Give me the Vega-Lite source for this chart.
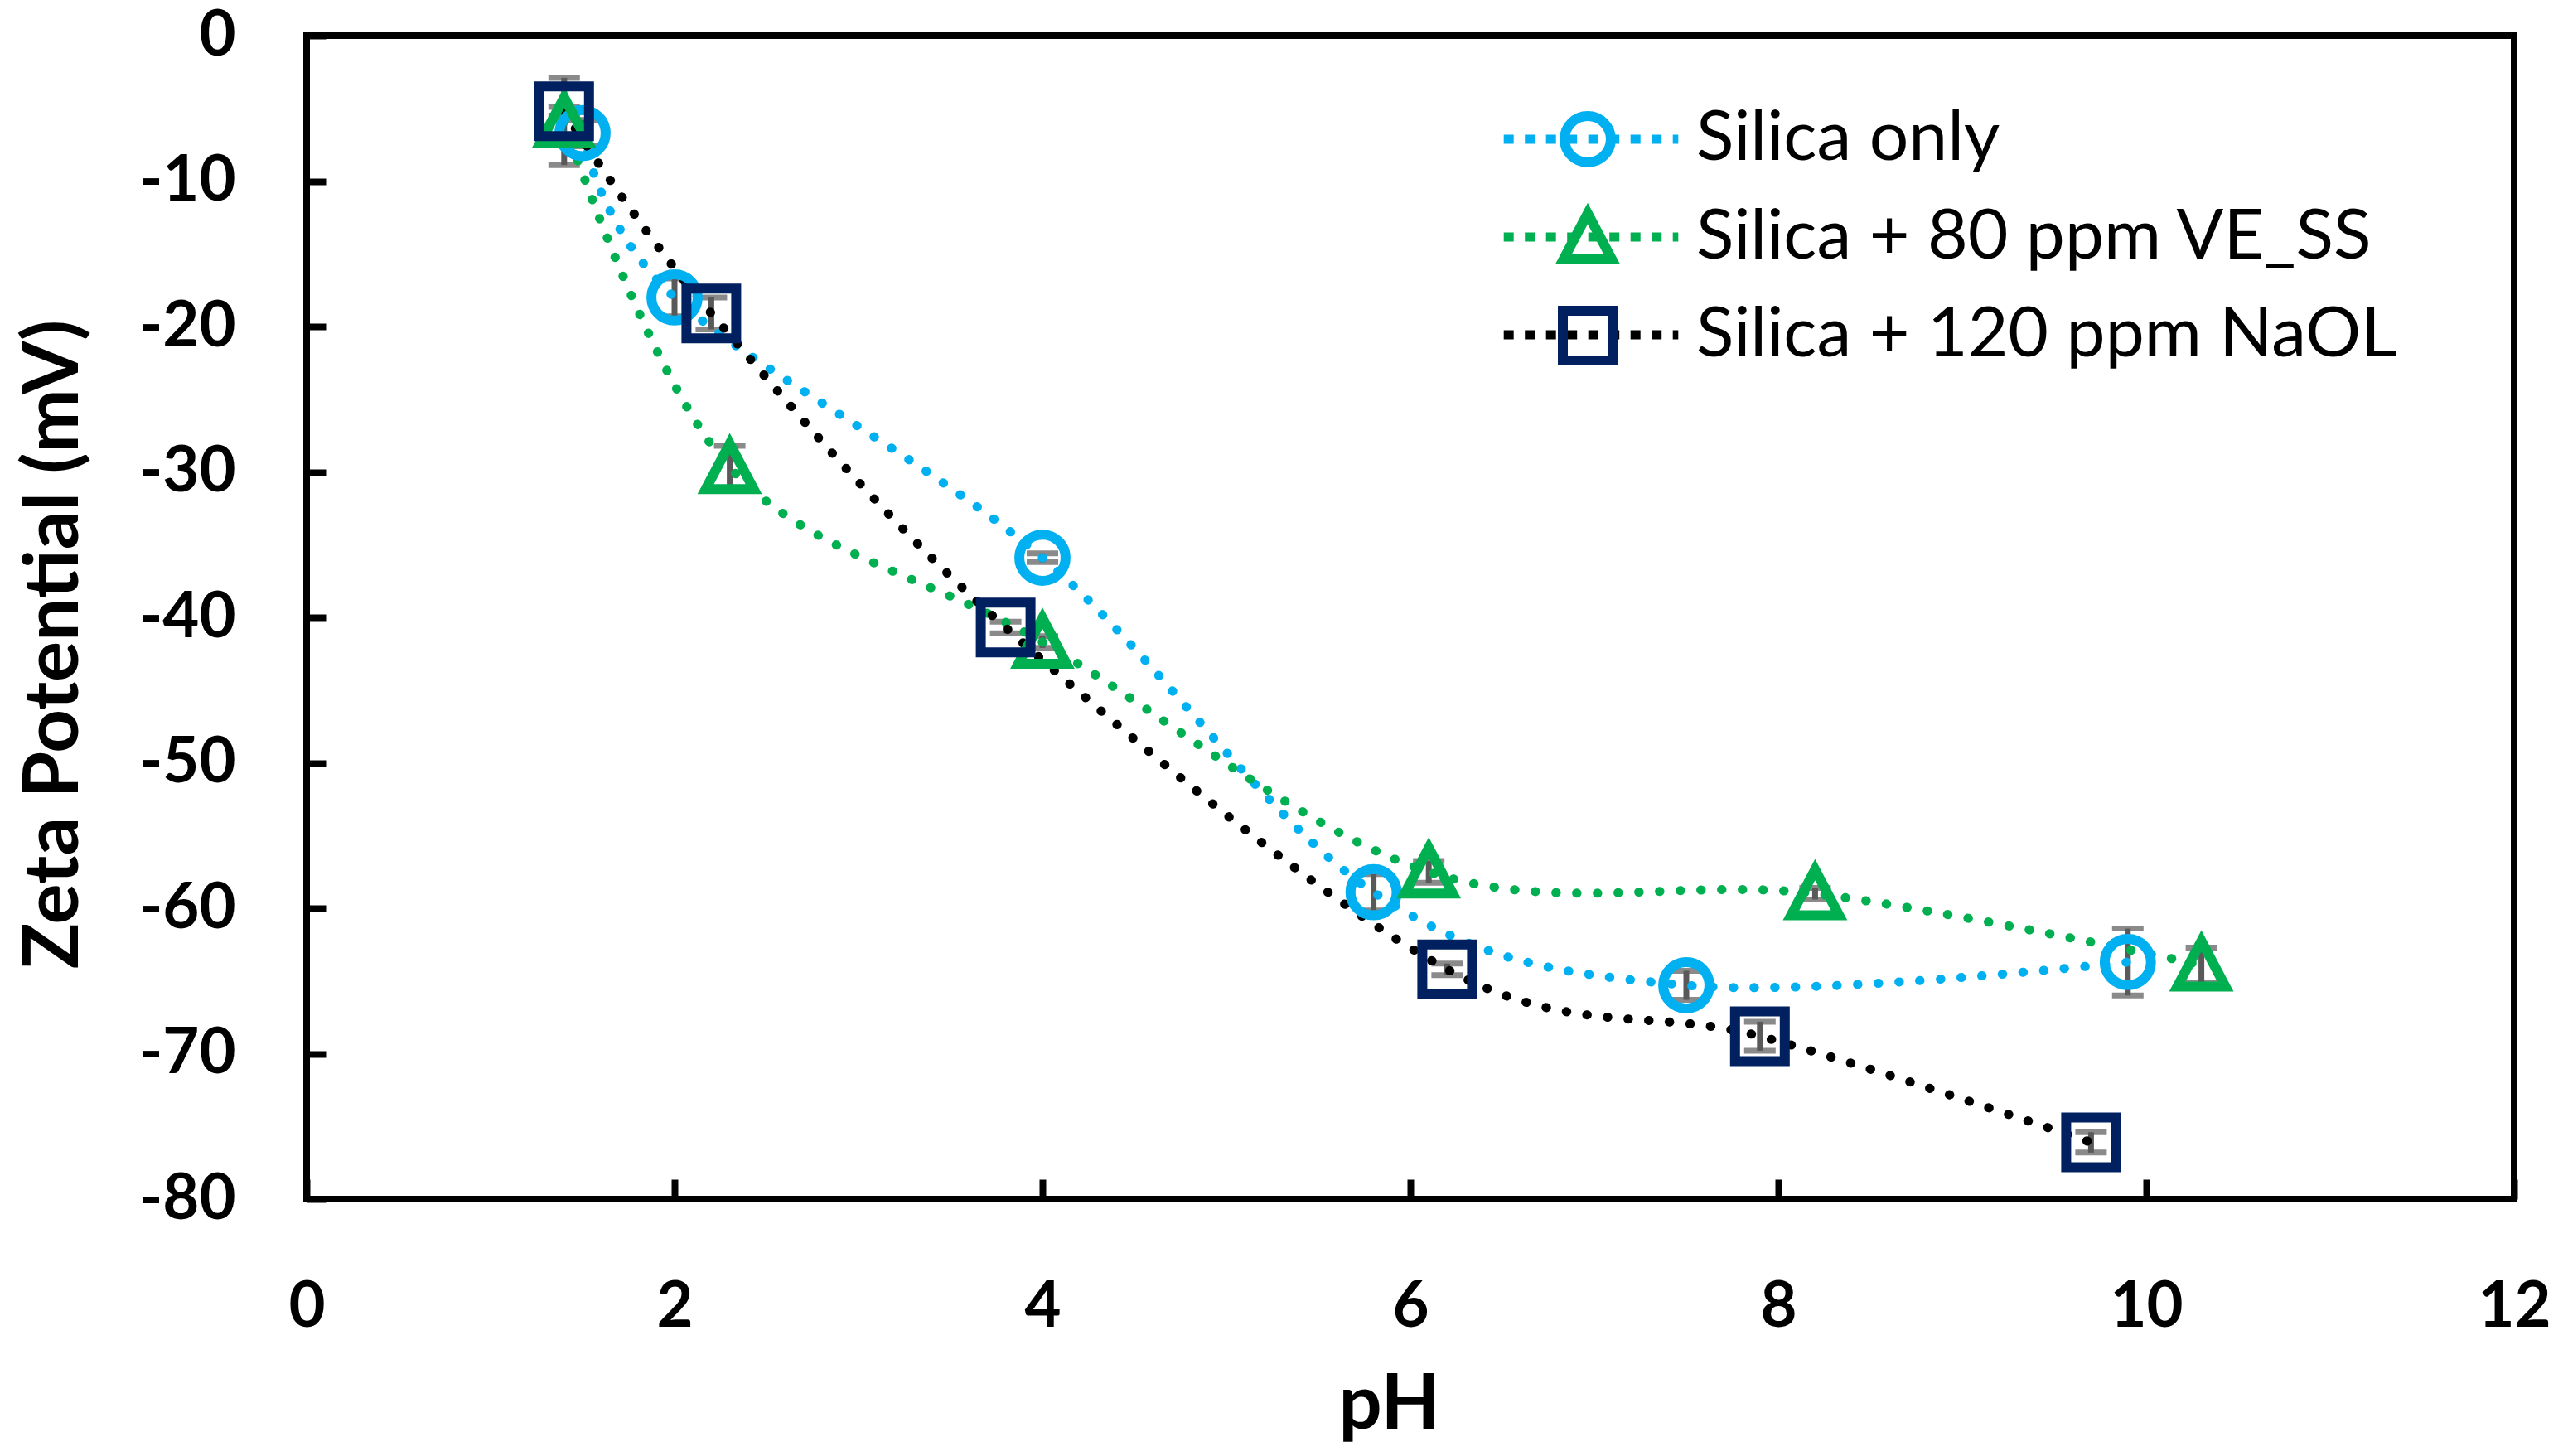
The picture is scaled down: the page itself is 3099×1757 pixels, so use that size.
{
  "$schema": "https://vega.github.io/schema/vega-lite/v6.json",
  "autosize": "none",
  "padding": {"left": 370, "top": 43, "right": 65, "bottom": 310},
  "width": 2664,
  "height": 1404,
  "background": "white",
  "data": {
    "values": [
      {"Sample": "Silica only", "pH": 1.5, "Zeta": -6.7, "Err": 0.9},
      {"Sample": "Silica only", "pH": 2.0, "Zeta": -18.0, "Err": 1.3},
      {"Sample": "Silica only", "pH": 4.0, "Zeta": -35.9, "Err": 0.3},
      {"Sample": "Silica only", "pH": 5.8, "Zeta": -58.9, "Err": 1.25},
      {"Sample": "Silica only", "pH": 7.5, "Zeta": -65.3, "Err": 1.0},
      {"Sample": "Silica only", "pH": 9.9, "Zeta": -63.7, "Err": 2.3},
      {"Sample": "Silica + 80 ppm VE_SS", "pH": 1.4, "Zeta": -5.9, "Err": 3.0},
      {"Sample": "Silica + 80 ppm VE_SS", "pH": 2.3, "Zeta": -29.7, "Err": 1.5},
      {"Sample": "Silica + 80 ppm VE_SS", "pH": 4.0, "Zeta": -41.7, "Err": 0.4},
      {"Sample": "Silica + 80 ppm VE_SS", "pH": 6.1, "Zeta": -57.5, "Err": 0.75},
      {"Sample": "Silica + 80 ppm VE_SS", "pH": 8.2, "Zeta": -59.0, "Err": 0.4},
      {"Sample": "Silica + 80 ppm VE_SS", "pH": 10.3, "Zeta": -63.9, "Err": 1.2},
      {"Sample": "Silica + 120 ppm NaOL", "pH": 1.4, "Zeta": -5.2, "Err": 0.3},
      {"Sample": "Silica + 120 ppm NaOL", "pH": 2.2, "Zeta": -19.1, "Err": 1.1},
      {"Sample": "Silica + 120 ppm NaOL", "pH": 3.8, "Zeta": -40.7, "Err": 0.4},
      {"Sample": "Silica + 120 ppm NaOL", "pH": 6.2, "Zeta": -64.2, "Err": 0.4},
      {"Sample": "Silica + 120 ppm NaOL", "pH": 7.9, "Zeta": -68.8, "Err": 1.0},
      {"Sample": "Silica + 120 ppm NaOL", "pH": 9.7, "Zeta": -76.1, "Err": 0.7}
    ]
  },
  "encoding": {
    "x": {
      "field": "pH",
      "type": "quantitative",
      "scale": {"domain": [0, 12], "nice": false, "zero": false},
      "axis": {
        "title": "pH",
        "values": [0, 2, 4, 6, 8, 10, 12],
        "labelPadding": 117,
        "titleX": 1306,
        "titleY": 203
      }
    },
    "y": {
      "field": "Zeta",
      "type": "quantitative",
      "scale": {"domain": [-80, 0], "nice": false, "zero": false},
      "axis": {
        "title": "Zeta Potential (mV)",
        "values": [0, -10, -20, -30, -40, -50, -60, -70, -80],
        "labelPadding": 110,
        "titleX": -258,
        "titleY": 734
      }
    }
  },
  "layer": [
    {
      "mark": {
        "type": "errorbar",
        "thickness": 7,
        "color": "#595959",
        "rule": {"color": "#595959"},
        "ticks": {"size": 38, "color": "#595959"}
      },
      "encoding": {
        "y": {"field": "Zeta", "type": "quantitative"},
        "yError": {"field": "Err"}
      }
    },
    {
      "mark": {
        "type": "line",
        "interpolate": "cardinal",
        "tension": 0,
        "strokeWidth": 11,
        "strokeDash": [0.5, 24.5],
        "strokeCap": "round"
      },
      "encoding": {
        "color": {
          "field": "Sample",
          "type": "nominal",
          "scale": {
            "domain": ["Silica only", "Silica + 80 ppm VE_SS", "Silica + 120 ppm NaOL"],
            "range": ["#00B0F0", "#00B050", "#000000"]
          },
          "legend": {
            "orient": "none",
            "legendX": 1508,
            "legendY": 83,
            "title": null,
            "padding": 0,
            "labelExpr": "''",
            "labelFontSize": 84,
            "rowPadding": 34,
            "symbolType": "M-3.9,0H3.9",
            "symbolSize": 2916,
            "symbolStrokeWidth": 11,
            "symbolDash": [12, 13.5],
            "symbolFillColor": "transparent"
          }
        }
      }
    },
    {
      "mark": {"type": "point", "filled": false, "strokeWidth": 12, "opacity": 1},
      "encoding": {
        "color": {
          "field": "Sample",
          "type": "nominal",
          "scale": {
            "domain": ["Silica only", "Silica + 80 ppm VE_SS", "Silica + 120 ppm NaOL"],
            "range": ["#00B0F0", "#00B050", "#002060"]
          },
          "legend": {
            "orient": "none",
            "legendX": 1504,
            "legendY": 83,
            "title": null,
            "padding": 0,
            "labelFontSize": 84,
            "labelOffset": 89,
            "labelLimit": 0,
            "rowPadding": 13.5,
            "symbolStrokeWidth": 12
          }
        },
        "shape": {
          "field": "Sample",
          "type": "nominal",
          "scale": {
            "domain": ["Silica only", "Silica + 80 ppm VE_SS", "Silica + 120 ppm NaOL"],
            "range": ["circle", "M0,-1L1,0.9L-1,0.9Z", "square"]
          }
        },
        "size": {
          "field": "Sample",
          "type": "nominal",
          "scale": {
            "domain": ["Silica only", "Silica + 80 ppm VE_SS", "Silica + 120 ppm NaOL"],
            "range": [3117, 3600, 4356]
          }
        }
      }
    }
  ],
  "resolve": {"scale": {"color": "independent", "shape": "independent", "size": "independent"}},
  "config": {
    "view": {"stroke": "#000000", "strokeWidth": 8},
    "axis": {
      "grid": false,
      "domain": false,
      "tickSize": -24,
      "tickWidth": 8,
      "tickColor": "#000000",
      "labelFlush": false,
      "labelExpr": "replace(datum.label, '\u2212', '-')",
      "labelFont": "Lato",
      "labelFontWeight": "bold",
      "labelFontSize": 76,
      "labelColor": "#000000",
      "titleFont": "Lato",
      "titleFontWeight": "bold",
      "titleFontSize": 92,
      "titleColor": "#000000"
    },
    "legend": {
      "labelFont": "Lato",
      "labelColor": "#000000",
      "labelFontWeight": "normal"
    }
  }
}
